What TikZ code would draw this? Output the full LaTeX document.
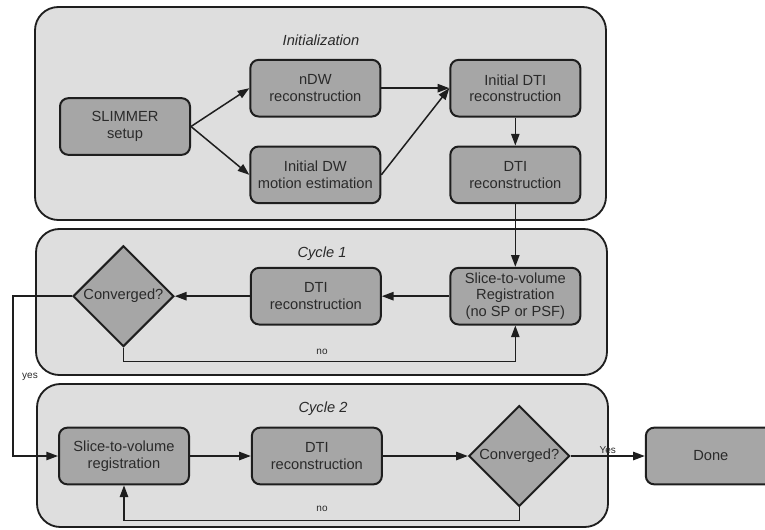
\documentclass[tikz,border=0pt]{standalone}
\usepackage{fontspec}
\setmainfont{Liberation Sans}
\usepackage{tikz}
\usetikzlibrary{arrows.meta,positioning,shapes.geometric}
\definecolor{PanelGray}{HTML}{DEDEDE}
\definecolor{BoxGray}{HTML}{A6A6A6}
\definecolor{LineDark}{HTML}{1E1E1E}
\definecolor{TextDark}{HTML}{2A2A2A}

\begin{document}
\begin{tikzpicture}[
    x=0.6pt, y=-0.6pt,
    font=\fontsize{8.8}{10}\selectfont,
    panel/.style={draw=LineDark, line width=1.1pt, rounded corners=14pt, fill=PanelGray},
    proc/.style={draw=LineDark, line width=1.2pt, rounded corners=5pt, fill=BoxGray, text=TextDark, align=center, minimum width=78pt, minimum height=34pt, inner sep=1pt},
    decide/.style={diamond, aspect=1, draw=LineDark, line width=1.2pt, fill=BoxGray, text=TextDark, minimum width=60.5pt, minimum height=60.5pt, inner sep=0pt},
    ttl/.style={font=\fontsize{8.8}{10}\selectfont\itshape, text=TextDark},
    lbl/.style={font=\fontsize{6}{7}\selectfont, text=TextDark, inner sep=1pt},
    arr/.style={-{Triangle[length=7pt,width=5pt]}, line width=0.9pt, draw=LineDark}
]
\clip (0,0) rectangle (765,529);

% stage panels
\draw[panel] (35,7) rectangle (606,220);
\draw[panel] (36,229) rectangle (607,375);
\draw[panel] (37,384) rectangle (608,527);

\node[ttl] (tinit) at (321,40) {Initialization};
\node[ttl] (tcyc1) at (322,254) {Cycle 1};
\node[ttl] (tcyc2) at (323,409) {Cycle 2};

% initialization
\node[proc] (setup) at (125,126.5) {SLIMMER\\setup};
\node[proc, right=35pt of setup, yshift=23pt] (ndw) {nDW\\reconstruction};
\node[proc, below=16.8pt of ndw] (dwmot) {Initial DW\\motion estimation};
\node[proc, right=40.8pt of ndw] (idti) {Initial DTI\\reconstruction};
\node[proc, below=16.8pt of idti] (dti0) {DTI\\reconstruction};

% cycle 1
\node[proc, below=37.6pt of dti0] (reg1) {Slice-to-volume\\Registration\\(no SP or PSF)};
\node[proc, left=40.5pt of reg1] (dti1) {DTI\\reconstruction};
\node[decide, left=45pt of dti1] (conv1) {Converged?};

% cycle 2
\node[proc] (reg2) at (124,456) {Slice-to-volume\\registration};
\node[proc, right=36.5pt of reg2] (dti2) {DTI\\reconstruction};
\node[decide, right=51pt of dti2] (conv2) {Converged?};
\node[proc, right=44.5pt of conv2] (done) {Done};

\draw[arr] (setup.east) -- (ndw.west);
\draw[arr] (setup.east) -- (dwmot.west);
\draw[arr] (ndw) -- (idti);
\draw[arr] (dwmot.east) -- (idti.west);
\draw[arr] (idti) -- (dti0);
\draw[arr] (dti0) -- (reg1);
\draw[arr] (reg1) -- (dti1);
\draw[arr] (dti1) -- (conv1);
\draw[arr] (conv1.south) -- ++(0,14) -| (reg1.south);
\draw[arr] (conv1.west) -- ++(-59,0) |- (reg2.west);
\draw[arr] (reg2) -- (dti2);
\draw[arr] (dti2) -- (conv2);
\draw[arr] (conv2.south) -- ++(0,13) -| (reg2.south);
\draw[arr] (conv2) -- node[lbl, above] (yes2) {Yes} (done);

\node[lbl] (no1) at (322,352) {no};
\node[lbl] (no2) at (322,509) {no};
\node[lbl] (yes1) at (30,377) {yes};
\end{tikzpicture}
\end{document}
